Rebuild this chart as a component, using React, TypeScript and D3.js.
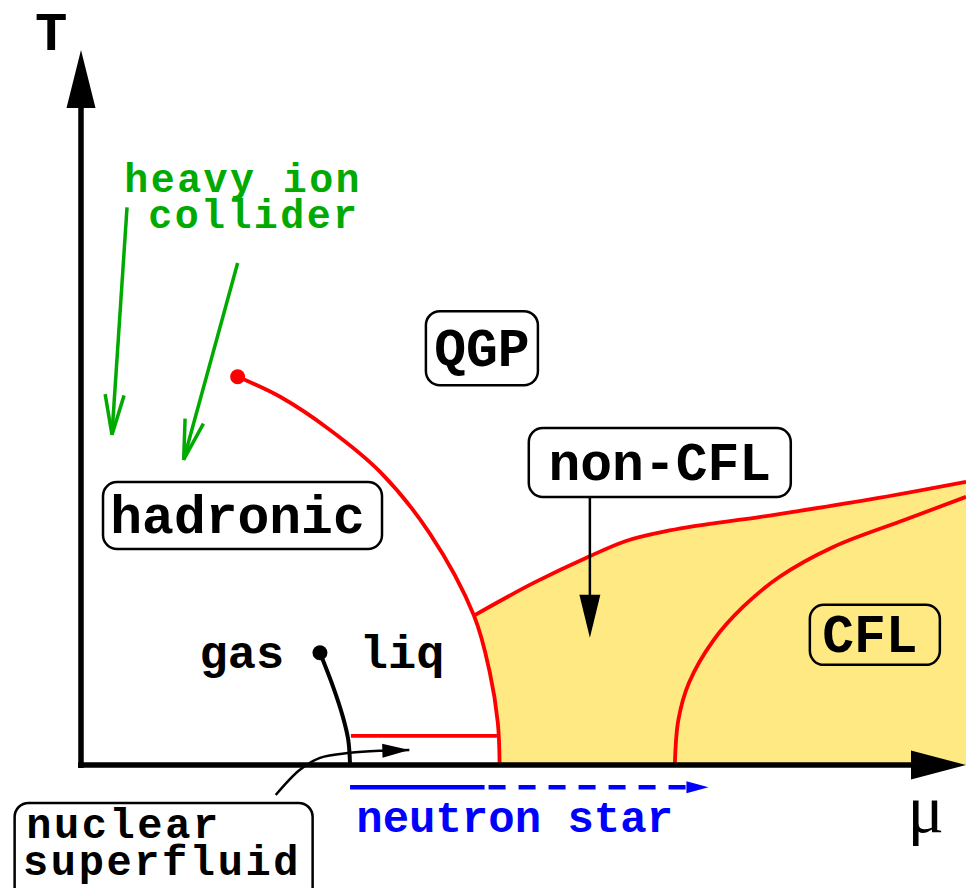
import React from 'react';
import * as d3 from 'd3';

const W = 966;
const H = 888;

// both axes run 0..100 in arbitrary units (the sketch has no ticks)
const muDomain = [0, 100];
const tDomain = [0, 100];

// phase boundaries, as [mu, T]
const hadronBoundary = [
  [17.7, 54.3], [22.5, 51.5], [28.1, 46.9], [33.8, 41.0], [39.4, 32.4],
  [44.4, 20.9], [46.2, 12.9], [47.1, 5.9], [47.3, 0],
];
const nonCflBoundary = [
  [44.4, 20.9], [51.2, 25.5], [57.3, 29.1], [61.5, 31.3], [66.5, 32.8],
  [76.8, 34.7], [89.0, 37.1], [100, 39.6],
];
const cflBoundary = [
  [67.1, 0], [67.5, 6.3], [68.7, 11.5], [71.5, 17.5], [74.8, 22.1],
  [78.9, 26.3], [85.0, 30.5], [93.1, 34.3], [100, 37.5],
];
const liquidGasLine = [[27.0, 15.7], [28.5, 10.9], [29.6, 6.7], [30.2, 3.5], [30.4, 0]];
const superfluidEdge = [[30.5, 4.06], [47.0, 4.06]];

// annotation pointers
const superfluidPointer = [[22.0, -4.2], [24.7, -0.7], [27.0, 1.0], [30.4, 1.7], [34.1, 2.0], [37.1, 2.1]];
const neutronStarT = -3.1;
const neutronStarSolid = [30.4, 45.6];
const neutronStarDashed = [45.6, 70.9];
const heavyIonArrows = [
  [[5.2, 78.0], [3.5, 46.2]],
  [[17.7, 70.2], [11.6, 42.7]],
];
const nonCflPointer = [[57.5, 37.9], [57.5, 17.8]];

const phaseLabels = ['QGP', 'hadronic', 'non-CFL', 'CFL'];
const heavyIonLabel = ['heavy ion', 'collider'];
const superfluidLabel = ['nuclear', 'superfluid'];

const mono = "'Courier New', 'Liberation Mono', monospace";
const RED = '#ff0000';
const GREEN = '#00aa00';
const BLUE = '#0000ff';
const YELLOW = '#ffe983';

type P = [number, number];

// filled triangle head, tip at `tip`, pointing away from `from` (pixel coords)
function head(tip: P, from: P, len: number, hw: number) {
  const dx = tip[0] - from[0], dy = tip[1] - from[1];
  const L = Math.hypot(dx, dy);
  const ux = dx / L, uy = dy / L;
  const bx = tip[0] - ux * len, by = tip[1] - uy * len;
  return `M${tip[0]},${tip[1]}L${bx - uy * hw},${by + ux * hw}L${bx + uy * hw},${by - ux * hw}Z`;
}

// open "V" head
function openHead(tip: P, from: P, len: number, hw: number) {
  const dx = tip[0] - from[0], dy = tip[1] - from[1];
  const L = Math.hypot(dx, dy);
  const ux = dx / L, uy = dy / L;
  const bx = tip[0] - ux * len, by = tip[1] - uy * len;
  return `M${bx - uy * hw},${by + ux * hw}L${tip[0]},${tip[1]}L${bx + uy * hw},${by - ux * hw}`;
}

const Box = ({ cx, cy, w, h, text, fs = 53, dx = 0, fill = '#fff' }: any) => (
  <g>
    <rect x={cx - w / 2} y={cy - h / 2} width={w} height={h} rx={14} ry={14}
      fill={fill} stroke="#000" strokeWidth={2.5} />
    <text x={cx + dx} y={cy + fs * 0.33} textAnchor="middle" fontFamily={mono}
      fontWeight="bold" fontSize={fs} fill="#000">{text}</text>
  </g>
);

export default function App() {
  const x = d3.scaleLinear().domain(muDomain).range([81, 966]);
  const y = d3.scaleLinear().domain(tDomain).range([765, 50]);
  const px = (d: number[]): P => [x(d[0]), y(d[1])];

  const smooth = d3.line<number[]>()
    .x(d => x(d[0])).y(d => y(d[1]))
    .curve(d3.curveCatmullRom.alpha(0.5));
  const gentle = d3.line<number[]>()
    .x(d => x(d[0])).y(d => y(d[1]))
    .curve(d3.curveMonotoneX);
  const straight = d3.line<number[]>().x(d => x(d[0])).y(d => y(d[1]));

  // yellow colour-superconducting region
  const lowerHadron = hadronBoundary.filter(d => d[0] >= 44.4);
  const fillPath = smooth(lowerHadron) +
    `L${x(100)},${y(0)}` +
    gentle([...nonCflBoundary].reverse())!.replace(/^M/, 'L') + 'Z';

  // axes
  const o: P = [x(0), y(0)];
  const muTip: P = [x(100), y(0)];
  const tTip: P = [x(0), y(100)];

  const spTip = px(superfluidPointer[superfluidPointer.length - 1]);
  const spPrev = px(superfluidPointer[superfluidPointer.length - 2]);

  const nsY = y(neutronStarT);
  const nsTip: P = [x(neutronStarDashed[1]), nsY];

  const ncTop = px(nonCflPointer[0]);
  const ncTip = px(nonCflPointer[1]);

  const label = { fontFamily: mono, fontWeight: 'bold' as const };

  return (
    <svg width={W} height={H} style={{ position: 'absolute', left: 0, top: 0, background: '#fff' }}>
      <path d={fillPath} fill={YELLOW} stroke="none" />

      {/* red phase boundaries */}
      <path d={smooth(hadronBoundary)!} fill="none" stroke={RED} strokeWidth={3.8} />
      <path d={gentle(nonCflBoundary)!} fill="none" stroke={RED} strokeWidth={3.8} />
      <path d={smooth(cflBoundary)!} fill="none" stroke={RED} strokeWidth={3.8} />
      <path d={straight(superfluidEdge)!} fill="none" stroke={RED} strokeWidth={3.8} />
      <circle cx={x(hadronBoundary[0][0])} cy={y(hadronBoundary[0][1])} r={7.5} fill={RED} />

      {/* nuclear liquid-gas line */}
      <path d={smooth(liquidGasLine)!} fill="none" stroke="#000" strokeWidth={4} />
      <circle cx={x(liquidGasLine[0][0])} cy={y(liquidGasLine[0][1])} r={7.5} fill="#000" />

      {/* axes */}
      <line x1={o[0] - 3} y1={o[1]} x2={muTip[0] - 50} y2={o[1]} stroke="#000" strokeWidth={5.5} />
      <line x1={o[0]} y1={o[1] + 3} x2={o[0]} y2={tTip[1] + 52} stroke="#000" strokeWidth={5.5} />
      <path d={head(muTip, o, 55, 14.5)} fill="#000" />
      <path d={head(tTip, o, 58, 14.5)} fill="#000" />
      <text x={x(-5.2)} y={y(100)} {...label} fontSize={54}>T</text>
      <text x={x(93.4)} y={y(-9.4)} fontFamily="'Liberation Serif', 'Times New Roman', serif" fontSize={68}>μ</text>

      {/* heavy ion collider */}
      {heavyIonArrows.map((a, i) => {
        const s = px(a[0]), t = px(a[1]);
        return (
          <g key={i} stroke={GREEN} strokeWidth={3.5} fill="none">
            <line x1={s[0]} y1={s[1]} x2={t[0]} y2={t[1]} />
            <path d={openHead(t, s, 40, 9.5)} />
          </g>
        );
      })}
      <text x={x(4.9)} y={y(80.1)} {...label} fontSize={40} letterSpacing={2.4} fill={GREEN}>{heavyIonLabel[0]}</text>
      <text x={x(7.6)} y={y(75.1)} {...label} fontSize={40} letterSpacing={2.4} fill={GREEN}>{heavyIonLabel[1]}</text>

      {/* gas / liq */}
      <text x={x(13.4)} y={y(13.6)} {...label} fontSize={47}>gas</text>
      <text x={x(31.5)} y={y(13.6)} {...label} fontSize={47}>liq</text>

      {/* neutron star */}
      <line x1={x(neutronStarSolid[0])} y1={nsY} x2={x(neutronStarSolid[1])} y2={nsY} stroke={BLUE} strokeWidth={4.5} />
      <line x1={x(neutronStarDashed[0]) + 4} y1={nsY} x2={nsTip[0] - 20} y2={nsY} stroke={BLUE} strokeWidth={4.5}
        strokeDasharray="17 13" />
      <path d={head(nsTip, [0, nsY], 22, 6)} fill={BLUE} />
      <text x={x(31.1)} y={y(-9.4)} {...label} fontSize={44} fill={BLUE}>neutron star</text>

      {/* nuclear superfluid pointer */}
      <path d={smooth(superfluidPointer)!} fill="none" stroke="#000" strokeWidth={2.5} />
      <path d={head(spTip, spPrev, 27, 7)} fill="#000" />
      <rect x={x(-7.5)} y={y(-5.3)} width={298} height={100} rx={14} ry={14} fill="#fff" stroke="#000" strokeWidth={2.5} />
      <text x={x(-6.2)} y={y(-10.2)} {...label} fontSize={42} letterSpacing={2.6}>{superfluidLabel[0]}</text>
      <text x={x(-6.55)} y={y(-15.4)} {...label} fontSize={42} letterSpacing={2.6}>{superfluidLabel[1]}</text>

      {/* non-CFL pointer */}
      <line x1={ncTop[0]} y1={ncTop[1]} x2={ncTip[0]} y2={ncTip[1] - 40} stroke="#000" strokeWidth={2.5} />
      <path d={head(ncTip, ncTop, 43, 10.5)} fill="#000" />

      {/* phase labels */}
      <Box cx={x(45.3)} cy={y(58.3)} w={112} h={74} text={phaseLabels[0]} />
      <Box cx={x(18.25)} cy={y(34.9)} w={279} h={67} text={phaseLabels[1]} dx={-5} />
      <Box cx={x(65.4)} cy={y(42.3)} w={262} h={69} text={phaseLabels[2]} />
      <Box cx={x(89.7)} cy={y(18.2)} w={130} h={60} text={phaseLabels[3]} dx={-5} fill="none" />
    </svg>
  );
}
